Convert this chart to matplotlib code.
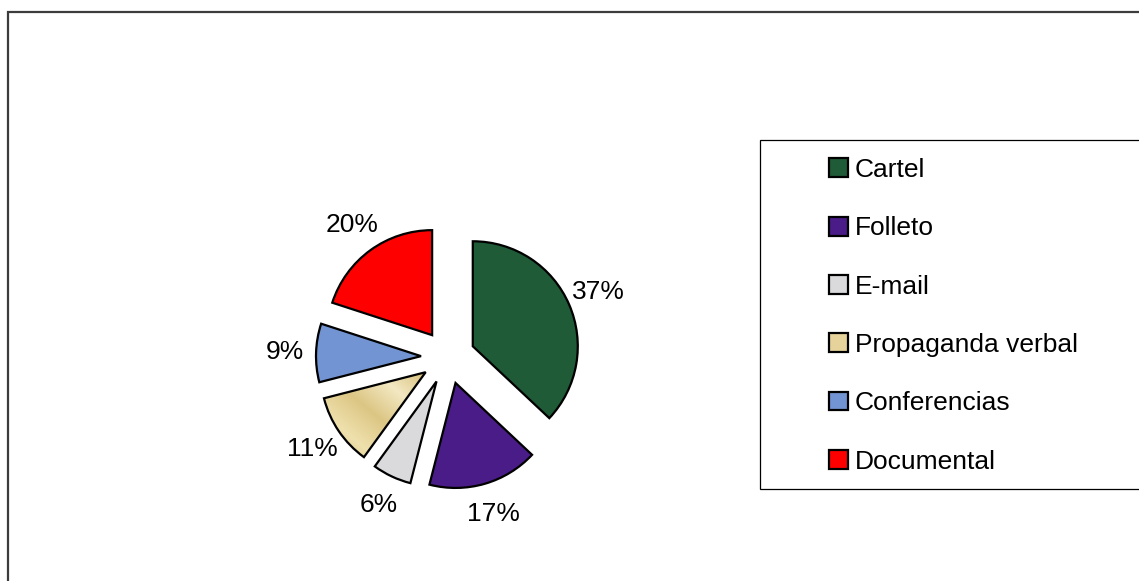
import matplotlib
matplotlib.use('Agg')
import matplotlib.pyplot as plt
import numpy as np
from matplotlib.patches import Rectangle
from matplotlib.colors import LinearSegmentedColormap

plt.rcParams['font.family'] = ['Liberation Sans', 'DejaVu Sans']

categories = ['Cartel', 'Folleto', 'E-mail', 'Propaganda verbal', 'Conferencias', 'Documental']
values = [37, 17, 6, 11, 9, 20]
colors = ['#1f5b37', '#4a1c88', '#dadadd', '#e5d39b', '#7394d2', '#ff0000']

W, H = 1139, 581
fig = plt.figure(figsize=(W / 100, H / 100), dpi=100)
ax = fig.add_axes([0, 0, 1, 1])

# pie in pixel units (y measured from bottom); explode is absolute here
r = 105
wedges, texts = ax.pie(values, colors=colors, startangle=90, counterclock=False,
                       explode=[27] * len(values), radius=r, center=(448, H - 357),
                       labels=[f'{v}%' for v in values], labeldistance=1.30,
                       wedgeprops=dict(edgecolor='black', linewidth=1.6),
                       textprops=dict(fontsize=19, color='black'))
for t in texts:
    t.set_horizontalalignment('center')
    t.set_verticalalignment('center')

# gold "metal" gradient on the Propaganda verbal wedge
gold = wedges[3]
bb = gold.get_path().get_extents(gold.get_patch_transform())
g = np.linspace(0, 1, 200)
grad = np.add.outer(g, g[::-1])
cmap = LinearSegmentedColormap.from_list('gold', ['#d8c07a', '#f3e8c2', '#dcc684', '#efe1ad', '#d9c27c'])
im = ax.imshow(grad, cmap=cmap, extent=(bb.x0, bb.x1, bb.y0, bb.y1), zorder=gold.get_zorder(),
               aspect='auto', interpolation='bilinear')
im.set_clip_path(gold)
gold.set_zorder(gold.get_zorder() + 0.1)
gold.set_facecolor('none')

ax.set_xlim(0, W)
ax.set_ylim(0, H)
ax.set_aspect('auto')
ax.axis('off')

# outer chart frame (cut off at right and bottom)
ax.plot([7.5, 7.5, W], [0, H - 12, H - 12], color='#3c3c3c', linewidth=1.6,
        solid_joinstyle='miter', clip_on=False)

# legend box
ax.add_patch(Rectangle((760, H - 489), 400, 349, facecolor='white',
                       edgecolor='black', linewidth=0.9, clip_on=False))
handles = [Rectangle((0, 0), 1, 1, facecolor=c, edgecolor='black', linewidth=1.6) for c in colors]
leg = ax.legend(handles, categories, loc='upper left',
                bbox_to_anchor=(829 / W, 1 - 158 / H), frameon=False,
                fontsize=19, handlelength=0.73, handleheight=0.73,
                handletextpad=0.25, labelspacing=1.30, borderpad=0, borderaxespad=0)

fig.savefig('out.png', dpi=100)
